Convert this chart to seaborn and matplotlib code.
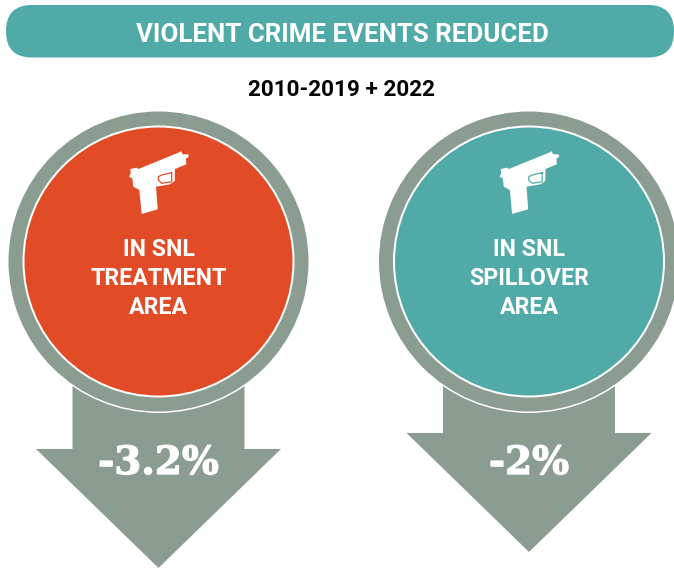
import matplotlib
matplotlib.use("Agg")
import matplotlib.pyplot as plt
import matplotlib.patheffects as pe
from matplotlib.font_manager import FontProperties
from matplotlib.patches import FancyBboxPatch
import pandas as pd
import seaborn as sns

# Chart content
title = "VIOLENT CRIME EVENTS REDUCED"
period = "2010-2019 + 2022"
area_labels = ["IN SNL\nTREATMENT\nAREA", "IN SNL\nSPILLOVER\nAREA"]
reductions = [3.2, 2.0]
value_labels = ["-3.2%", "-2%"]

# Palette
TEAL = "#50ABA8"
ORANGE = "#E14B25"
GREY = "#8B9C91"
disc_colours = [ORANGE, TEAL]

# Layout, in pixels from the top-left corner
W, H = 674, 568
CENTRES_X = [158.5, 529.0]
CENTRE_Y = 261.5
PX_PER_POINT = 13.33      # arrow drop per percentage point
SHOULDER_BASE = 406.3     # shoulder height of a zero-length drop
HEAD_HALF, HEAD_DEPTH, SHAFT_HALF = 122.5, 119, 86

# Pistol outline relative to the icon's origin (pixels)
GUN_X = [50.3, 52, 53.7, 59.3, 59.7, 57, 57.3, 46, 45.7, 41, 27, 28.7, 12.7,
         10.3, 4.3, 3.3, 0, 1.7, 1.3, 7.7, 9.3]
GUN_Y = [1.6, 0.6, 3.6, 3.6, 6.3, 7.6, 13.6, 18.3, 30.3, 33.6, 36, 58.6, 63.3,
         39.3, 36, 27.6, 26, 22.6, 18.3, 17, 18.3]
GUARD_X = [42.7, 42.7, 32.7, 29.3, 29.3, 32.7, 42.7]
GUARD_Y = [22, 31, 32.6, 29.3, 26, 24.3, 22]
GUN_ORIGIN_Y = 150.7
GUN_OFFSET_X = -29.5

sns.set_theme(style="white")
plt.rcParams["font.family"] = ["Roboto", "DejaVu Sans"]

fig, ax = plt.subplots(figsize=(W / 100, H / 100), dpi=100)
ax.set_position([0, 0, 1, 1])

# Header band
ax.add_patch(FancyBboxPatch((32, 31), 616, 0.5, boxstyle="round,pad=26,rounding_size=26",
                            fc=TEAL, ec="none", zorder=1))
ax.text(342, 33, title, color="white", fontsize=18.6, fontweight="bold",
        ha="center", va="center_baseline", zorder=5)
ax.text(342, 88, period, color="black", fontsize=16.2, fontweight="bold",
        ha="center", va="center_baseline", zorder=5)

# Arrows: their drop grows with the size of the reduction
value_font = FontProperties(family="DejaVu Serif", weight="bold", size=28)
for cx, value, label in zip(CENTRES_X, reductions, value_labels):
    shoulder = SHOULDER_BASE + PX_PER_POINT * value
    ax.fill([cx - SHAFT_HALF, cx + SHAFT_HALF, cx + SHAFT_HALF, cx + HEAD_HALF, cx,
             cx - HEAD_HALF, cx - SHAFT_HALF],
            [CENTRE_Y, CENTRE_Y, shoulder, shoulder, shoulder + HEAD_DEPTH, shoulder, shoulder],
            color=GREY, lw=0, zorder=2)
    ax.text(cx, 459, label, color="white", fontproperties=value_font,
            ha="center", va="center_baseline", zorder=6,
            path_effects=[pe.withStroke(linewidth=0.9, foreground="white")])


def disc_size(radius_px):
    """Scatter marker area for a disc with the given pixel radius."""
    return (2 * radius_px * 72 / fig.dpi) ** 2


# Concentric discs: white halo, grey ring, white keyline, coloured face
discs = pd.DataFrame({"x": CENTRES_X, "y": [CENTRE_Y] * 2})
for radius, colours, z in [(151.5, ["white"] * 2, 3), (150, [GREY] * 2, 3.1),
                           (136, ["white"] * 2, 3.2), (134, disc_colours, 3.3)]:
    sns.scatterplot(data=discs, x="x", y="y", s=disc_size(radius), c=colours,
                    linewidth=0, legend=False, ax=ax, zorder=z)

ax.set_xlim(0, W)
ax.set_ylim(H, 0)
ax.axis("off")

for cx, colour, label in zip(CENTRES_X, disc_colours, area_labels):
    ox = cx + GUN_OFFSET_X
    ax.fill([ox + x for x in GUN_X], [GUN_ORIGIN_Y + y for y in GUN_Y], color="white", lw=0, zorder=4)
    ax.plot([ox + x for x in GUARD_X], [GUN_ORIGIN_Y + y for y in GUARD_Y], color=colour, lw=0.9, zorder=4.1)
    ax.text(cx, 278.5, label, color="white", fontsize=16.7, fontweight="bold", linespacing=1.33,
            ha="center", va="center", zorder=5)

fig.savefig("out.png", dpi=100, facecolor="white")
